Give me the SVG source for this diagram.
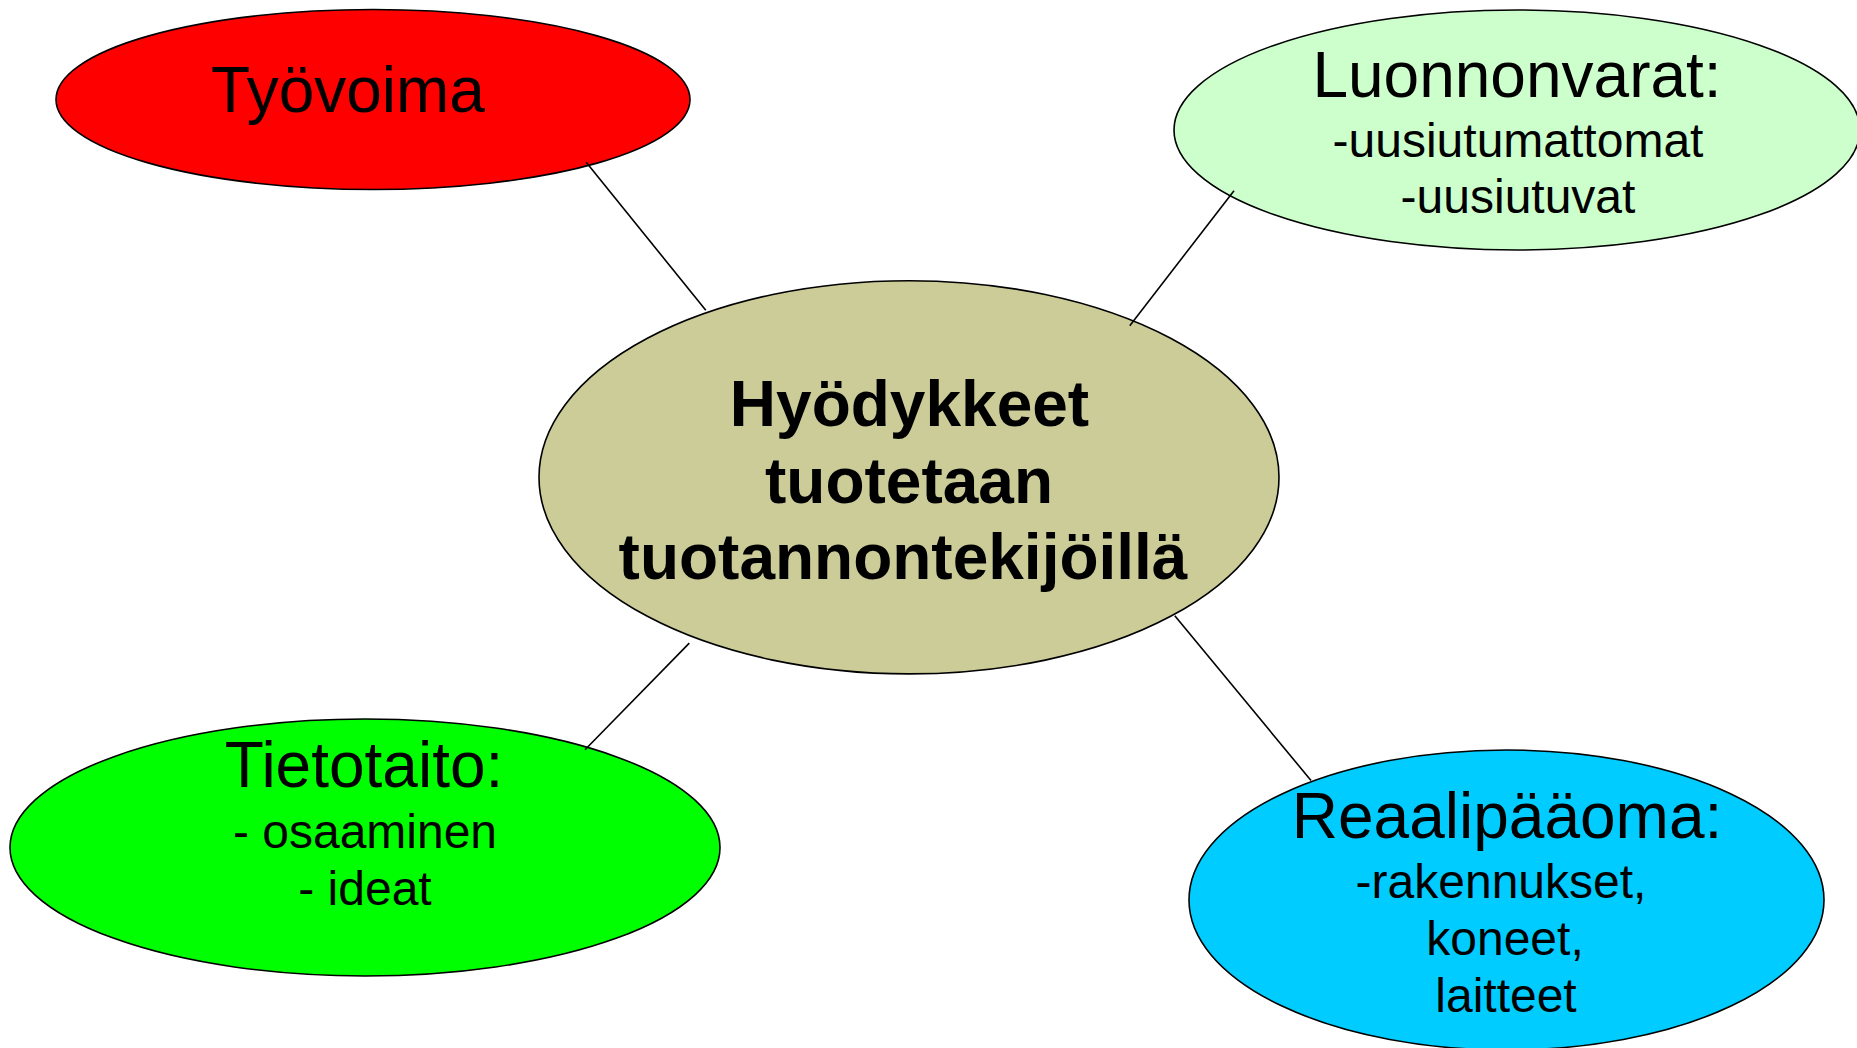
<svg xmlns="http://www.w3.org/2000/svg" width="1857" height="1048" viewBox="0 0 1857 1048">
<style>
.node{stroke:#000;stroke-width:1.6}
.t{font-family:"Liberation Sans",Arial,sans-serif;fill:#000;text-anchor:middle}
.big{font-size:64px}
.sub{font-size:48px}
.bold{font-size:64px;font-weight:bold}
.conn line{stroke:#000;stroke-width:1.6}
</style>
<rect width="1857" height="1048" fill="#fff"/>
<g id="tyovoima">
<ellipse class="node" cx="373" cy="99.5" rx="317" ry="90" fill="#FF0000"/>
<text class="t big" x="348" y="112">Työvoima</text>
</g>
<g id="luonnonvarat">
<ellipse class="node" cx="1517" cy="130" rx="343" ry="120" fill="#CCFFCC"/>
<text class="t big" x="1517" y="97">Luonnonvarat:</text>
<text class="t sub" x="1518" y="157">-uusiutumattomat</text>
<text class="t sub" x="1518" y="213">-uusiutuvat</text>
</g>
<g id="tietotaito">
<ellipse class="node" cx="365" cy="847.5" rx="355" ry="128.5" fill="#00FF00"/>
<text class="t big" x="364" y="787">Tietotaito:</text>
<text class="t sub" x="365" y="848">- osaaminen</text>
<text class="t sub" x="365" y="905">- ideat</text>
</g>
<g id="reaalipaaoma">
<ellipse class="node" cx="1506.5" cy="900" rx="317.5" ry="150" fill="#00CCFF"/>
<text class="t big" x="1507" y="838">Reaalipääoma:</text>
<text class="t sub" x="1501" y="898">-rakennukset,</text>
<text class="t sub" x="1505" y="955">koneet,</text>
<text class="t sub" x="1506" y="1012">laitteet</text>
</g>
<g id="hyodykkeet">
<ellipse class="node" cx="909" cy="477.3" rx="370" ry="196.6" fill="#CCCC99"/>
<text class="t bold" x="909.5" y="426">Hyödykkeet</text>
<text class="t bold" x="909" y="503">tuotetaan</text>
<text class="t bold" x="903" y="579">tuotannontekijöillä</text>
</g>
<g id="connectors" class="conn">
<line x1="586.2" y1="162.2" x2="705.8" y2="310.3"/>
<line x1="1234" y1="190.7" x2="1129.8" y2="325.7"/>
<line x1="689.3" y1="643.1" x2="585" y2="749.7"/>
<line x1="1174.8" y1="615.8" x2="1311" y2="780.5"/>
</g>
</svg>
